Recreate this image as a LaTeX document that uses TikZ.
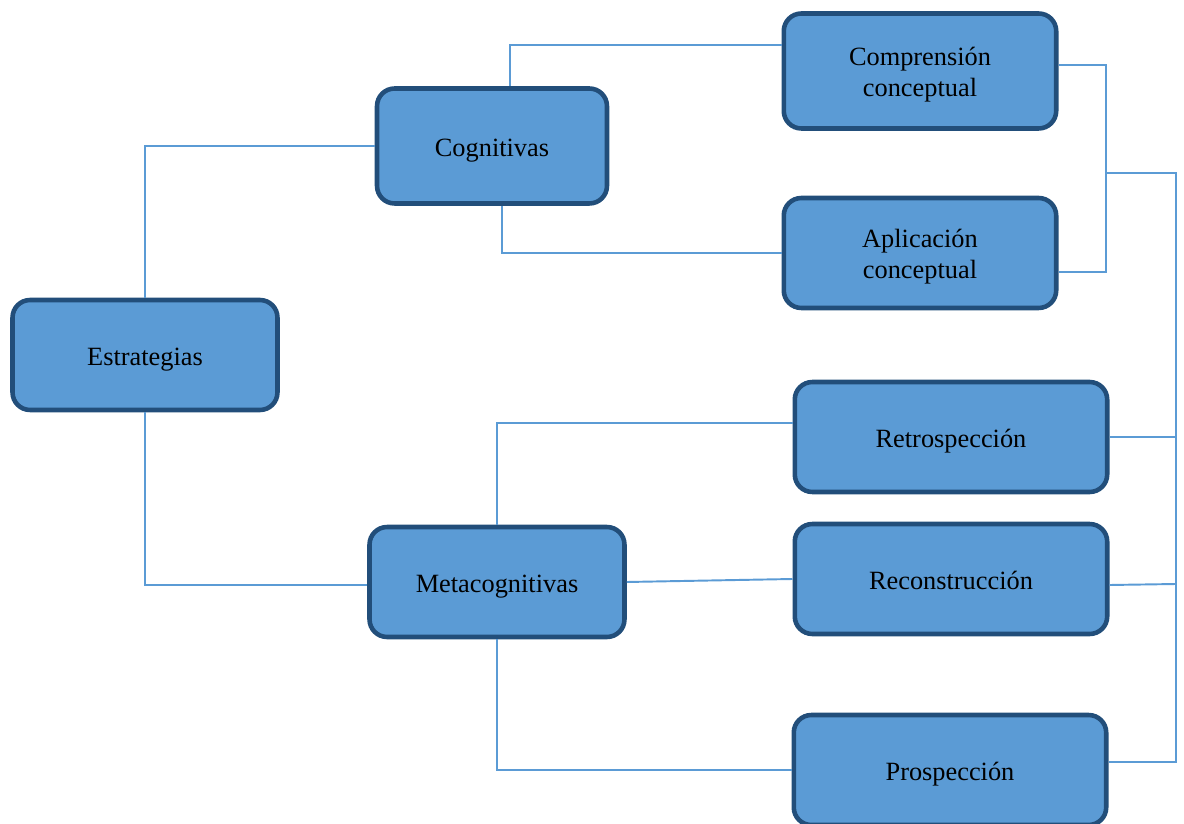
\documentclass[tikz,border=0pt]{standalone}
\usepackage{fontspec}
\setmainfont{Liberation Serif}
\usepackage{tikz}
\usetikzlibrary{positioning}
\definecolor{boxfill}{HTML}{5B9BD5}
\definecolor{boxedge}{HTML}{224E7A}
\definecolor{linkc}{HTML}{5B9BD5}
\tikzset{box/.style={draw=boxedge, fill=boxfill, line width=2.6pt, rounded corners=10pt,
  minimum height=2.2cm, align=center, text height=15pt, text depth=3.5pt,
  font=\fontsize{15}{17.5}\selectfont}}
\tikzset{twolines/.style={text height=32.5pt}}
\tikzset{link/.style={draw=linkc, line width=1.1pt}}

\begin{document}
\begin{tikzpicture}[x=0.02cm,y=-0.02cm]
\useasboundingbox (0,0) rectangle (1184,824);
\node[box, minimum width=5.3cm] (estr) at (145,355) {Estrategias};
\node[box, minimum width=4.6cm, minimum height=2.3cm] (cog) at (492,146) {Cognitivas};
\node[box, minimum width=5.1cm] (meta) at (497,582) {Metacognitivas};
\node[box, twolines, minimum width=5.45cm, minimum height=2.3cm] (comp) at (920,71) {Comprensión\\conceptual};
\node[box, twolines, minimum width=5.45cm] (apli) at (920,253) {Aplicación\\conceptual};
\node[box, minimum width=6.25cm] (retro) at (951,437) {Retrospección};
\node[box, minimum width=6.25cm] (recon) at (951,579) {Reconstrucción};
\node[box, minimum width=6.25cm] (prosp) at (950,770) {Prospección};
% ramas
\draw[link] (estr.north) |- (cog.west);
\draw[link] (estr.south) |- ([yshift=-0.06cm]meta.west);
\draw[link] ([xshift=0.36cm]cog.north) |- ([yshift=0.52cm]comp.west);
\draw[link] ([xshift=0.2cm]cog.south) |- (apli.west);
\draw[link] (meta.north) |- ([yshift=0.28cm]retro.west);
\draw[link] (meta.east) -- (recon.west);
\draw[link] (meta.south) |- (prosp.west);
% lado derecho
\coordinate (brk) at (1106,173);
\coordinate (rail) at (1176,173);
\draw[link] ([yshift=0.12cm]comp.east) -| (brk) |- ([yshift=-0.38cm]apli.east);
\draw[link] (brk) -- (rail) |- ([yshift=0.16cm]prosp.east);
\draw[link] (retro.east) -- (rail |- retro.east);
\draw[link] ([yshift=-0.12cm]recon.east) -- ([yshift=-0.1cm]rail |- recon.east);
\end{tikzpicture}
\end{document}
